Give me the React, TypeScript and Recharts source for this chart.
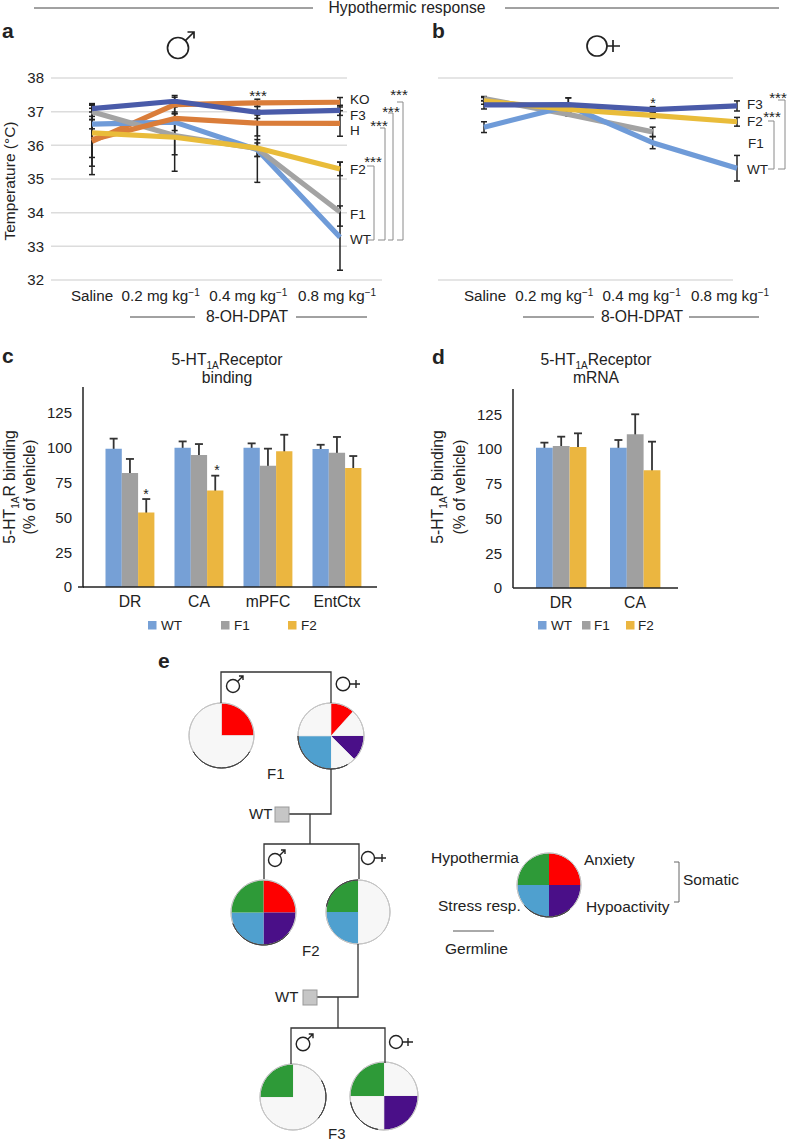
// Hypothermic response figure: panels a-e, each drawn by its own Recharts chart.
import {
  LineChart,
  Line,
  BarChart,
  Bar,
  PieChart,
  Pie,
  Cell,
  XAxis,
  YAxis,
  CartesianGrid,
  ErrorBar,
} from "recharts";

const FONT = "'Liberation Sans', Arial, sans-serif";
const INK = "#222";

/* ---- panels a, b ---- */
const doses = ["Saline", "0.2 mg kg", "0.4 mg kg", "0.8 mg kg"];
const tempTicks = [32, 33, 34, 35, 36, 37, 38];

const maleWT = [36.63, 36.69, 35.87, 33.27];
const maleF1 = [37.0, 36.29, 35.9, 34.02];
const maleF2 = [36.37, 36.24, 35.92, 35.3];
const maleF3 = [37.09, 37.31, 36.98, 37.04];
const maleKO = [36.12, 37.21, 37.26, 37.28];
const maleH = [36.17, 36.8, 36.66, 36.65];

const maleWTErr = [0.14, 0.25, 0.2, [0.98, 0.93]];
const maleF1Err = [0.24, 1.06, 1.0, [0.42, 1.48]];
const maleF2Err = [0.73, 0.52, 0.25, 0.2];
const maleF3Err = [0.1, 0.17, 0.18, 0.15];
const maleKOErr = [0.74, 0.22, 0.11, 0.14];
const maleHErr = [1.04, 0.14, 0.38, 0.38];

const femaleWT = [36.54, 37.17, 36.08, 35.32];
const femaleF1 = [37.39, 36.92, 36.4, null];
const femaleF2 = [37.32, 37.07, 36.89, 36.7];
const femaleF3 = [37.2, 37.21, 37.06, 37.17];

const femaleWTErr = [0.16, 0.24, 0.18, 0.38];
const femaleF1Err = [0.06, 0.05, 0.14, null];
const femaleF2Err = [0.1, 0.1, 0.09, 0.13];
const femaleF3Err = [0.12, 0.2, 0.09, 0.15];

const COLORS: Record<string, string> = {
  WT: "#6f9bd8",
  F1: "#a3a3a3",
  F2: "#e9bc3a",
  F3: "#4a5ba9",
  KO: "#da7d3a",
  H: "#da7d3a",
};

const maleSeries = [
  { key: "KO", values: maleKO, errs: maleKOErr },
  { key: "WT", values: maleWT, errs: maleWTErr },
  { key: "F1", values: maleF1, errs: maleF1Err },
  { key: "H", values: maleH, errs: maleHErr },
  { key: "F3", values: maleF3, errs: maleF3Err },
  { key: "F2", values: maleF2, errs: maleF2Err },
];

const femaleSeries = [
  { key: "F1", values: femaleF1, errs: femaleF1Err },
  { key: "WT", values: femaleWT, errs: femaleWTErr },
  { key: "F2", values: femaleF2, errs: femaleF2Err },
  { key: "F3", values: femaleF3, errs: femaleF3Err },
];

// dose labels sit a little left of their points in the original
const maleLabelShift = [0, -14, -9, -3];
const femaleLabelShift = [1, -14, -11, -7];

/* ---- panels c, d ---- */
const pctTicks = [0, 25, 50, 75, 100, 125];
const bindingRegions = ["DR", "CA", "mPFC", "EntCtx"];
const bindingWT = [99.4, 100, 100, 99.1];
const bindingF1 = [81.9, 94.8, 87.2, 96.5];
const bindingF2 = [53.6, 69.4, 97.5, 85.5];
const bindingWTErr = [7.2, 4.6, 3.2, 3.1];
const bindingF1Err = [10.1, 7.9, 12.2, 11.3];
const bindingF2Err = [9.6, 10.6, 11.9, 8.6];

const mrnaRegions = ["DR", "CA"];
const mrnaWT = [101, 101];
const mrnaF1 = [102.2, 110.6];
const mrnaF2 = [101.5, 84.7];
const mrnaWTErr = [3.6, 5.5];
const mrnaF1Err = [6.7, 14.4];
const mrnaF2Err = [9.8, 20.6];

const BAR_COLORS: Record<string, string> = { WT: "#76a0d6", F1: "#a0a0a0", F2: "#ebb640" };
const barKeys = ["WT", "F1", "F2"];

/* ---- panel e ---- */
const TRAITS: Record<string, string> = {
  anxiety: "#fe0000",
  hypoactivity: "#4a0f88",
  stress: "#4fa0cf",
  hypothermia: "#2e9a38",
  none: "#f7f7f7",
};

const f1Male = [
  { trait: "anxiety", value: 90 },
  { trait: "none", value: 270 },
];
const f1Female = [
  { trait: "anxiety", value: 42 },
  { trait: "none", value: 48 },
  { trait: "hypoactivity", value: 45 },
  { trait: "none", value: 45 },
  { trait: "stress", value: 90 },
  { trait: "none", value: 90 },
];
const f2Male = [
  { trait: "anxiety", value: 90 },
  { trait: "hypoactivity", value: 90 },
  { trait: "stress", value: 90 },
  { trait: "hypothermia", value: 90 },
];
const f2Female = [
  { trait: "none", value: 180 },
  { trait: "stress", value: 90 },
  { trait: "hypothermia", value: 90 },
];
const f3Male = [
  { trait: "none", value: 270 },
  { trait: "hypothermia", value: 90 },
];
const f3Female = [
  { trait: "none", value: 90 },
  { trait: "hypoactivity", value: 90 },
  { trait: "none", value: 90 },
  { trait: "hypothermia", value: 90 },
];

function toRows(names: string[], series: any[]) {
  return names.map((name, i) => {
    const row: any = { name };
    series.forEach((s) => {
      row[s.key] = s.values[i];
      row[s.key + "Err"] = s.errs[i];
    });
    return row;
  });
}

function DoseTick({ x, y, payload, index, shifts }: any) {
  const isDose = payload.value !== "Saline";
  return (
    <text x={x + shifts[index]} y={y + 21} textAnchor="middle" fontSize={15.2} fill={INK} fontFamily={FONT}>
      <tspan>{payload.value}</tspan>
      {isDose && (
        <tspan dy={-5} fontSize={10}>
          −1
        </tspan>
      )}
    </text>
  );
}

function TempPanel({ series, left, plotLeft, plotWidth, padL, padR, shifts, showY }: any) {
  const rows = toRows(doses, series);
  return (
    <div style={{ position: "absolute", left, top: 60 }}>
      <LineChart
        width={plotLeft + plotWidth + 50}
        height={260}
        data={rows}
        margin={{ top: 18, right: 50, bottom: 0, left: 0 }}
      >
        <CartesianGrid vertical={false} stroke="#dcdcdc" strokeWidth={1.5} />
        <XAxis
          dataKey="name"
          height={40}
          interval={0}
          axisLine={false}
          tickLine={false}
          tickSize={0}
          tickMargin={0}
          padding={{ left: padL, right: padR }}
          tick={<DoseTick shifts={shifts} />}
        />
        <YAxis
          width={plotLeft}
          domain={[32, 38]}
          ticks={tempTicks}
          axisLine={false}
          tickLine={false}
          tickSize={0}
          tickMargin={7}
          tick={showY ? { fontSize: 15, fill: INK, fontFamily: FONT } : false}
        />
        {series.map((s: any) => (
          <Line
            key={s.key + "-err"}
            dataKey={s.key}
            stroke="none"
            dot={false}
            activeDot={false}
            legendType="none"
            isAnimationActive={false}
          >
            <ErrorBar dataKey={s.key + "Err"} width={3} stroke="#222" strokeWidth={1.5} isAnimationActive={false} />
          </Line>
        ))}
        {series.map((s: any) => (
          <Line
            key={s.key}
            dataKey={s.key}
            stroke={COLORS[s.key]}
            strokeWidth={5.2}
            dot={false}
            activeDot={false}
            strokeLinejoin="round"
            isAnimationActive={false}
          />
        ))}
      </LineChart>
    </div>
  );
}

function BarLayer({ rows, width, height, yWidth, marginTop, marginRight, top, left, domainTop, padL, padR, barSize, front }: any) {
  return (
    <div style={{ position: "absolute", left, top }}>
      <BarChart
        width={width}
        height={height}
        data={rows}
        barGap={0}
        barSize={barSize}
        margin={{ top: marginTop, right: marginRight, bottom: 0, left: 0 }}
      >
        <XAxis
          dataKey="name"
          height={33}
          interval={0}
          padding={{ left: padL, right: padR }}
          axisLine={front ? { stroke: "#222", strokeWidth: 1.5 } : false}
          tickLine={false}
          tickSize={0}
          tickMargin={9}
          tick={front ? { fontSize: 15.7, fill: INK, fontFamily: FONT } : false}
        />
        <YAxis
          width={yWidth}
          domain={[0, domainTop]}
          ticks={pctTicks}
          allowDataOverflow
          axisLine={front ? { stroke: "#222", strokeWidth: 1.5 } : false}
          tickLine={false}
          tickSize={0}
          tickMargin={11}
          tick={front ? { fontSize: 15, fill: INK, fontFamily: FONT } : false}
        />
        {barKeys.map((k) => (
          <Bar key={k} dataKey={k} fill={front ? BAR_COLORS[k] : "none"} isAnimationActive={false}>
            {!front && (
              <ErrorBar dataKey={k + "Err"} width={4} stroke="#333" strokeWidth={1.8} isAnimationActive={false} />
            )}
          </Bar>
        ))}
      </BarChart>
    </div>
  );
}

// error whiskers go in a layer under the bars, so only their upper half shows
function BarPanel(props: any) {
  return (
    <>
      <BarLayer {...props} front={false} />
      <BarLayer {...props} front={true} />
    </>
  );
}

function TraitPie({ cx, cy, r, slices, shade }: any) {
  const size = 2 * r + 4;
  return (
    <div style={{ position: "absolute", left: cx - size / 2, top: cy - size / 2 }}>
      <PieChart width={size} height={size} margin={{ top: 0, right: 0, bottom: 0, left: 0 }}>
        <Pie
          data={slices}
          dataKey="value"
          cx="50%"
          cy="50%"
          innerRadius={0}
          outerRadius={r}
          startAngle={90}
          endAngle={-270}
          stroke="none"
          isAnimationActive={false}
        >
          {slices.map((s: any, i: number) => (
            <Cell
              key={i}
              fill={TRAITS[s.trait]}
              stroke={s.trait === "none" ? "#e2e2e2" : "none"}
              strokeWidth={0.6}
            />
          ))}
        </Pie>
        <Pie
          data={[{ value: 1 }]}
          dataKey="value"
          cx="50%"
          cy="50%"
          innerRadius={r}
          outerRadius={r}
          fill="none"
          stroke="#c4c4c4"
          strokeWidth={1}
          isAnimationActive={false}
        />
        {/* the darker stretch of each circle's rim */}
        <Pie
          data={[{ value: 1 }]}
          dataKey="value"
          cx="50%"
          cy="50%"
          innerRadius={r}
          outerRadius={r}
          startAngle={shade[0]}
          endAngle={shade[1]}
          fill="none"
          stroke="#444"
          strokeWidth={1}
          isAnimationActive={false}
        />
      </PieChart>
    </div>
  );
}

/* ---- overlay bits ---- */
function T({ x, y, size = 15.7, anchor = "start", weight, children, fill = INK, rotate }: any) {
  return (
    <text
      x={x}
      y={y}
      fontSize={size}
      textAnchor={anchor}
      fontWeight={weight}
      fill={fill}
      fontFamily={FONT}
      transform={rotate ? `rotate(${rotate} ${x} ${y})` : undefined}
    >
      {children}
    </text>
  );
}

function Male({ x, y, r, to, w = 1.4 }: any) {
  const [tx, ty] = to;
  const head = r * 0.62;
  return (
    <g fill="none" stroke={INK} strokeWidth={w}>
      <circle cx={x} cy={y} r={r} />
      <path d={`M${x + r * 0.7} ${y - r * 0.7}L${tx} ${ty}M${tx - head} ${ty}L${tx} ${ty}L${tx} ${ty + head}`} />
    </g>
  );
}

function Female({ x, y, r, end, cross, w = 1.4 }: any) {
  const arm = r * 0.6;
  return (
    <g fill="none" stroke={INK} strokeWidth={w}>
      <circle cx={x} cy={y} r={r} />
      <path d={`M${x + r} ${y}L${end} ${y}M${cross} ${y - arm}L${cross} ${y + arm}`} />
    </g>
  );
}

function Sq({ x, y, fill }: any) {
  return <rect x={x} y={y} width={8.5} height={8.5} fill={fill} />;
}

function ReceptorTitle({ x, y, second }: any) {
  return (
    <>
      <T x={x} y={y} anchor="middle">
        <tspan>5-HT</tspan>
        <tspan dy={4} fontSize={10}>
          1A
        </tspan>
        <tspan dy={-4}>Receptor</tspan>
      </T>
      <T x={x} y={y + 18} anchor="middle">
        {second}
      </T>
    </>
  );
}

function BindingLabel({ x1, x2, y }: any) {
  return (
    <>
      <T x={x1} y={y} anchor="middle" rotate={-90}>
        <tspan>5-HT</tspan>
        <tspan dy={4} fontSize={10}>
          1A
        </tspan>
        <tspan dy={-4}>R binding</tspan>
      </T>
      <T x={x2} y={y} anchor="middle" rotate={-90}>
        (% of vehicle)
      </T>
    </>
  );
}

function Overlay() {
  const bracket = "#8a8a8a";
  return (
    <svg
      width={788}
      height={1143}
      style={{ position: "absolute", left: 0, top: 0, pointerEvents: "none" }}
    >
      {/* the lowest grid line of panel a runs on past the others */}
      <line x1={347} y1={280} x2={382} y2={280} stroke="#dcdcdc" strokeWidth={1.5} />

      {/* header */}
      <g stroke="#444" strokeWidth={1}>
        <line x1={34} y1={8} x2={313} y2={8} />
        <line x1={505} y1={8} x2={779} y2={8} />
        <line x1={130} y1={317} x2={195} y2={317} />
        <line x1={296} y1={317} x2={367} y2={317} />
        <line x1={523} y1={317} x2={594} y2={317} />
        <line x1={689} y1={317} x2={759} y2={317} />
      </g>
      <T x={407} y={13} anchor="middle">
        Hypothermic response
      </T>
      <T x={247} y={322} anchor="middle">
        8-OH-DPAT
      </T>
      <T x={642} y={322} anchor="middle">
        8-OH-DPAT
      </T>

      {/* panel letters */}
      <T x={2} y={38} size={21} weight="bold">a</T>
      <T x={432} y={38} size={21} weight="bold">b</T>
      <T x={2} y={363} size={21} weight="bold">c</T>
      <T x={432} y={364} size={21} weight="bold">d</T>
      <T x={158} y={668} size={21} weight="bold">e</T>

      <Male x={178} y={48} r={10.5} to={[194, 32]} w={1.7} />
      <Female x={597} y={46} r={10} end={620} cross={613} w={1.7} />

      {/* panel a labels */}
      <T x={15} y={181} size={15.5} anchor="middle" rotate={-90}>
        Temperature (°C)
      </T>
      <T x={350} y={104} size={13.5}>KO</T>
      <T x={350} y={120} size={13.5}>F3</T>
      <T x={350} y={135} size={13.5}>H</T>
      <T x={350} y={174} size={13.5}>F2</T>
      <T x={350} y={219} size={13.5}>F1</T>
      <T x={350} y={244} size={13.5}>WT</T>
      <g fill="none" stroke={bracket} strokeWidth={1}>
        <path d="M367 166H374V240H367" />
        <path d="M380 128H385V240H378" />
        <path d="M388 113H393V240H388" />
        <path d="M397 102H403V240H397" />
      </g>
      <T x={373} y={167} size={15} anchor="middle">***</T>
      <T x={379} y={131} size={15} anchor="middle">***</T>
      <T x={391} y={117} size={15} anchor="middle">***</T>
      <T x={399} y={100} size={15} anchor="middle">***</T>
      <T x={258} y={101} size={15} anchor="middle">***</T>

      {/* panel b labels */}
      <T x={747} y={109} size={13.5}>F3</T>
      <T x={747} y={126} size={13.5}>F2</T>
      <T x={748} y={148} size={13.5}>F1</T>
      <T x={747} y={174} size={13.5}>WT</T>
      <g fill="none" stroke={bracket} strokeWidth={1}>
        <path d="M778 100H785V169H778" />
        <path d="M768 121H774V169H768" />
      </g>
      <T x={778} y={103} size={15} anchor="middle">***</T>
      <T x={772} y={122} size={15} anchor="middle">***</T>
      <T x={653} y={108} size={14} anchor="middle">*</T>

      {/* panel c labels */}
      <ReceptorTitle x={227} y={365} second="binding" />
      <BindingLabel x1={15} x2={35} y={487} />
      <line x1={78} y1={587} x2={84} y2={587} stroke="#222" strokeWidth={1.5} />
      <T x={146} y={499} size={14} anchor="middle">*</T>
      <T x={217} y={475} size={14} anchor="middle">*</T>
      <Sq x={148} y={621} fill={BAR_COLORS.WT} />
      <T x={161} y={630} size={13.5}>WT</T>
      <Sq x={221} y={621} fill={BAR_COLORS.F1} />
      <T x={234} y={630} size={13.5}>F1</T>
      <Sq x={288} y={621} fill={BAR_COLORS.F2} />
      <T x={301} y={630} size={13.5}>F2</T>

      {/* panel d labels */}
      <ReceptorTitle x={596} y={365} second="mRNA" />
      <BindingLabel x1={443} x2={465} y={487} />
      <Sq x={538} y={621} fill={BAR_COLORS.WT} />
      <T x={551} y={630} size={13.5}>WT</T>
      <Sq x={582} y={621} fill={BAR_COLORS.F1} />
      <T x={594} y={630} size={13.5}>F1</T>
      <Sq x={626} y={621} fill={BAR_COLORS.F2} />
      <T x={638} y={630} size={13.5}>F2</T>

      {/* pedigree */}
      <g fill="none" stroke="#333" strokeWidth={1.3}>
        <path d="M221 703V672H331V703" />
        <path d="M331 769V814H289" />
        <path d="M310 814V844" />
        <path d="M264 879V844H359V879" />
        <path d="M358 944V997H317" />
        <path d="M338 997V1028" />
        <path d="M291 1064V1028H385V1063" />
      </g>
      <rect x={275} y={807} width={14} height={15} fill="#c6c6c6" stroke="#999" />
      <rect x={303} y={990} width={14} height={15} fill="#c6c6c6" stroke="#999" />
      <T x={249} y={819} size={15}>WT</T>
      <T x={275} y={1002} size={15}>WT</T>
      <T x={267} y={779} size={15}>F1</T>
      <T x={302} y={956} size={15}>F2</T>
      <T x={328} y={1139} size={15}>F3</T>
      <Male x={233} y={686} r={6.5} to={[243, 676]} />
      <Female x={343} y={684} r={6.8} end={360} cross={356} />
      <Male x={275} y={860} r={6.5} to={[285, 850]} />
      <Female x={368} y={858} r={6.5} end={386} cross={382} />
      <Male x={303} y={1044} r={6.8} to={[313, 1034]} />
      <Female x={396} y={1042} r={6.5} end={413} cross={408} />

      {/* trait key */}
      <T x={431} y={863} size={15.5}>Hypothermia</T>
      <T x={584} y={865} size={15.5}>Anxiety</T>
      <T x={438} y={911} size={15.5}>Stress resp.</T>
      <T x={586} y={912} size={15.5}>Hypoactivity</T>
      <line x1={453} y1={931} x2={494} y2={931} stroke="#555" strokeWidth={1} />
      <T x={445} y={954} size={15.5}>Germline</T>
      <path d="M674 862H679V902H674" fill="none" stroke="#666" strokeWidth={1} />
      <T x={683} y={885} size={15.5}>Somatic</T>
    </svg>
  );
}

const bindingSeries = [
  { key: "WT", values: bindingWT, errs: bindingWTErr },
  { key: "F1", values: bindingF1, errs: bindingF1Err },
  { key: "F2", values: bindingF2, errs: bindingF2Err },
];
const mrnaSeries = [
  { key: "WT", values: mrnaWT, errs: mrnaWTErr },
  { key: "F1", values: mrnaF1, errs: mrnaF1Err },
  { key: "F2", values: mrnaF2, errs: mrnaF2Err },
];

export default function App() {
  return (
    <div
      style={{
        position: "absolute",
        left: 0,
        top: 0,
        width: 788,
        height: 1143,
        background: "#fff",
        overflow: "hidden",
      }}
    >
      <TempPanel
        series={maleSeries}
        left={0}
        plotLeft={51}
        plotWidth={296}
        padL={41}
        padR={7}
        shifts={maleLabelShift}
        showY
      />
      <TempPanel
        series={femaleSeries}
        left={400}
        plotLeft={38}
        plotWidth={295}
        padL={46}
        padR={-4}
        shifts={femaleLabelShift}
        showY={false}
      />
      <BarPanel
        rows={toRows(bindingRegions, bindingSeries)}
        left={0}
        top={380}
        width={400}
        height={240}
        yWidth={83}
        marginTop={7}
        marginRight={23}
        domainTop={143.7}
        padL={12.5}
        padR={5.5}
        barSize={16.3}
      />
      <BarPanel
        rows={toRows(mrnaRegions, mrnaSeries)}
        left={400}
        top={380}
        width={300}
        height={241}
        yWidth={113}
        marginTop={9}
        marginRight={22}
        domainTop={143.2}
        padL={11}
        padR={6}
        barSize={16.8}
      />
      <TraitPie cx={221} cy={735} r={32.5} slices={f1Male} shade={[-30, -150]} />
      <TraitPie cx={331} cy={736} r={33} slices={f1Female} shade={[-60, -180]} />
      <TraitPie cx={263} cy={912} r={32.5} slices={f2Male} shade={[-40, -160]} />
      <TraitPie cx={358} cy={912} r={32} slices={f2Female} shade={[170, 90]} />
      <TraitPie cx={293} cy={1097} r={33} slices={f3Male} shade={[30, -40]} />
      <TraitPie cx={384} cy={1096} r={34} slices={f3Female} shade={[-100, -170]} />
      <TraitPie cx={549} cy={885} r={32} slices={f2Male} shade={[-50, -140]} />
      <Overlay />
    </div>
  );
}
